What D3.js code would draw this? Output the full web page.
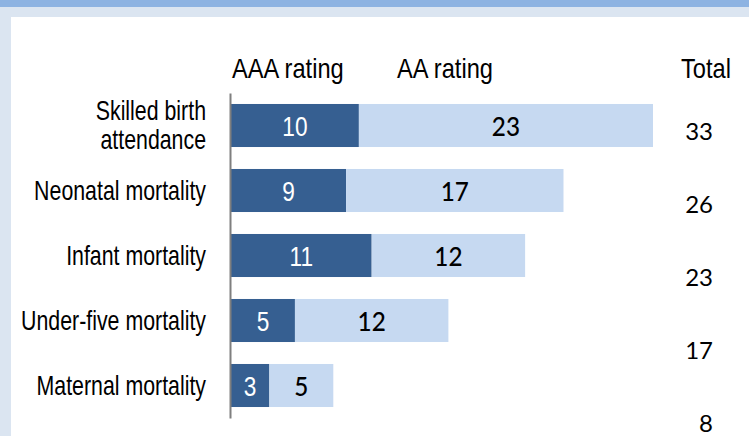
<!DOCTYPE html>
<html>
<head>
<meta charset="utf-8">
<script src="https://cdn.jsdelivr.net/npm/d3@7"></script>
<style>
  html, body { margin: 0; padding: 0; background: #fff; }
  svg { display: block; }
</style>
</head>
<body>
<svg id="chart" width="749" height="436"></svg>
<script>
// ---- data ----
const categories = ["Skilled birth attendance", "Neonatal mortality", "Infant mortality", "Under-five mortality", "Maternal mortality"];
const categoryLines = [["Skilled birth", "attendance"], ["Neonatal mortality"], ["Infant mortality"], ["Under-five mortality"], ["Maternal mortality"]];
const aaaValues = [10, 9, 11, 5, 3];
const aaValues = [23, 17, 12, 12, 5];
const totalValues = [33, 26, 23, 17, 8];
const seriesNames = ["AAA rating", "AA rating"];
const totalHeader = "Total";

// ---- styles ----
const narrow = "'Liberation Sans', Arial, sans-serif";
const numFont = "Lato, 'Open Sans', sans-serif";
const darkColor = "#365F91";
const lightColor = "#C6D9F1";

const svg = d3.select("#chart");
const W = 749, H = 436;

// frame
svg.append("rect").attr("x", 0).attr("y", 0).attr("width", W).attr("height", H).attr("fill", "#DBE5F1");
svg.append("rect").attr("x", 0).attr("y", 0).attr("width", W).attr("height", 7).attr("fill", "#8DB3E2");
svg.append("rect").attr("x", 11).attr("y", 17).attr("width", W - 11).attr("height", H - 17).attr("fill", "#fff");

const rows = categories.map((c, i) => ({ cat: c, lines: categoryLines[i], aaa: aaaValues[i], aa: aaValues[i], total: totalValues[i] }));

const x = d3.scaleLinear().domain([0, 33]).range([231, 653]);
const y = d3.scaleBand().domain(categories).range([93, 418]).paddingInner(0.338).paddingOuter(0.169);
const yTotal = d3.scalePoint().domain(categories).range([140, 432]);

// bars
const g = svg.append("g");
g.selectAll("rect.aaa").data(rows).join("rect")
  .attr("class", "aaa")
  .attr("x", d => x(0)).attr("y", d => y(d.cat))
  .attr("width", d => x(d.aaa) - x(0)).attr("height", y.bandwidth())
  .attr("fill", darkColor);
g.selectAll("rect.aa").data(rows).join("rect")
  .attr("class", "aa")
  .attr("x", d => x(d.aaa)).attr("y", d => y(d.cat))
  .attr("width", d => x(d.aaa + d.aa) - x(d.aaa)).attr("height", y.bandwidth())
  .attr("fill", lightColor);

// value labels
g.selectAll("text.aaa").data(rows).join("text")
  .attr("class", "aaa")
  .attr("transform", d => `translate(${(x(0) + x(d.aaa)) / 2},${y(d.cat) + y.bandwidth() / 2 + 10}) scale(0.84,1)`)
  .attr("text-anchor", "middle")
  .attr("font-family", narrow).attr("font-size", 27)
  .attr("fill", "#fff")
  .text(d => d.aaa);
g.selectAll("text.aa").data(rows).join("text")
  .attr("class", "aa")
  .attr("transform", d => `translate(${(x(d.aaa) + x(d.aaa + d.aa)) / 2},${y(d.cat) + y.bandwidth() / 2 + 10}) scale(0.9,1)`)
  .attr("text-anchor", "middle")
  .attr("font-family", numFont).attr("font-size", 27).attr("font-weight", 500)
  .attr("fill", "#000")
  .text(d => d.aa);

// totals
g.selectAll("text.total").data(rows).join("text")
  .attr("class", "total")
  .attr("transform", d => `translate(713,${yTotal(d.cat)})`)
  .attr("text-anchor", "end")
  .attr("font-family", numFont).attr("font-size", 24)
  .attr("fill", "#000")
  .text(d => d.total);

// axis
const axis = svg.append("g")
  .attr("transform", `translate(${x(0) - 1},0)`)
  .call(d3.axisLeft(y).tickSize(0).tickSizeOuter(0).tickPadding(24).tickFormat(""));
axis.select(".domain").attr("stroke", "#7F7F7F").attr("stroke-width", 2);
axis.selectAll(".tick text").each(function(c) {
  const i = categories.indexOf(c);
  const lines = categoryLines[i];
  const t = d3.select(this)
    .attr("font-family", narrow).attr("font-size", 27).attr("fill", "#000")
    .attr("x", null).attr("dy", null).attr("y", null)
    .attr("transform", `translate(-24,0) scale(0.79,1)`);
  const lh = 29;
  const off = -(lines.length - 1) * lh / 2 + 9;
  lines.forEach((ln, k) => {
    t.append("tspan").attr("x", 0).attr("y", off + k * lh).text(ln);
  });
});

// headers
function header(txt, px, anchor) {
  svg.append("text")
    .attr("transform", `translate(${px},78) scale(0.83,1)`)
    .attr("text-anchor", anchor)
    .attr("font-family", narrow).attr("font-size", 28.5).attr("fill", "#000")
    .text(txt);
}
header(seriesNames[0], 232, "start");
header(seriesNames[1], 397, "start");
header(totalHeader, 731, "end");
</script>
</body>
</html>
